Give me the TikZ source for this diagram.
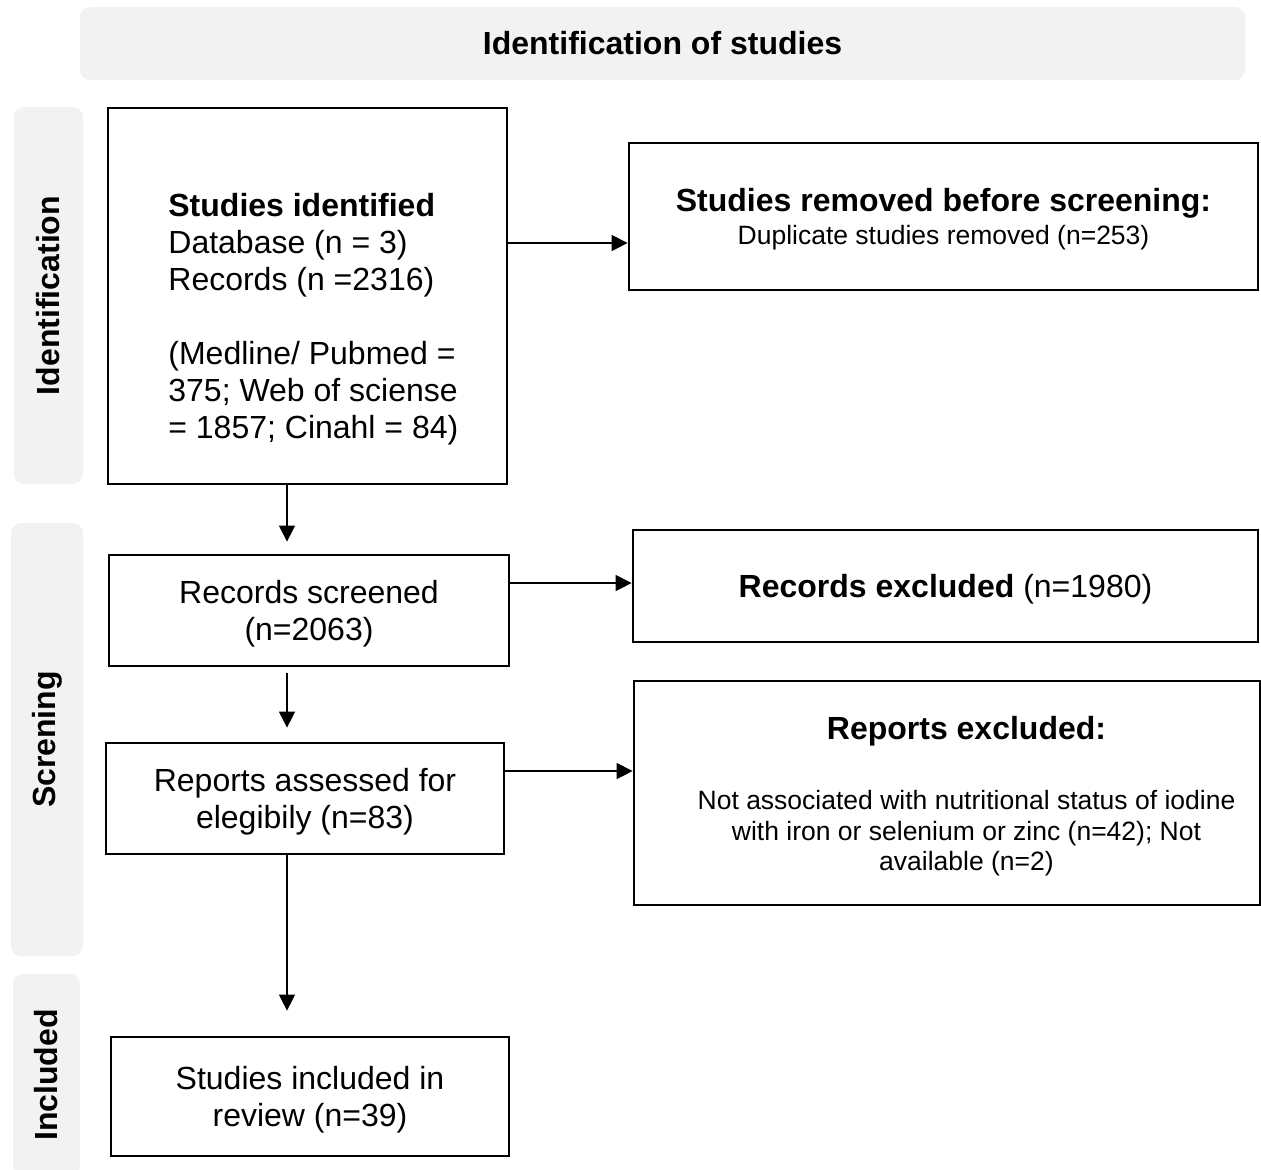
\documentclass[tikz,border=0pt]{standalone}
\usepackage{fontspec}
\setmainfont{Liberation Sans}
\usetikzlibrary{positioning, arrows.meta}
\definecolor{barfill}{HTML}{F2F2F2}

\tikzset{
  stagebar/.style={fill=barfill, rounded corners=5pt, inner sep=0pt, font=\bfseries\fontsize{16}{18.5}\selectfont},
  flowbox/.style={draw, line width=1.4pt, inner sep=0pt, text depth=0pt, align=center, font=\fontsize{16}{18.5}\selectfont},
  flowtext/.style={inner sep=0pt, text depth=0pt, font=\fontsize{16}{18.5}\selectfont},
  smalltext/.style={inner sep=0pt, align=center, font=\fontsize{13.25}{15.25}\selectfont},
  flowarrow/.style={-{Triangle[length=8pt,width=8pt]}, line width=0.7pt},
}

\begin{document}
\begin{tikzpicture}[x=0.5pt, y=-0.5pt]
		\useasboundingbox (0,0) rectangle (1261,1169);
		% stage bars
		\node[stagebar, minimum width=582.5pt, minimum height=36.5pt] (head) at (662.5,43.5) {Identification of studies};
		\node[stagebar, rotate=90, minimum width=188.5pt, minimum height=34.5pt] (idbar) at (48.5,295.5) {Identification};
		\node[stagebar, rotate=90, minimum width=216.5pt, minimum height=36pt] (scrbar) at (47,739.5) {Screning};
		\node[stagebar, rotate=90, minimum width=101pt, minimum height=33.5pt] (incbar) at (46.5,1075) {Included};
		% boxes
		\node[flowbox, minimum width=199.5pt, minimum height=188pt] (ident) at (307.5,296) {};
		\node[flowtext, align=left, anchor=west] (identtxt) at (168,316) {\textbf{Studies identified}\\Database (n = 3)\\Records (n =2316)\\[18.5pt](Medline/ Pubmed =\\375; Web of sciense\\= 1857; Cinahl = 84)};
		\node[flowbox, minimum width=314.5pt, minimum height=73.5pt, font=\fontsize{13.25}{15.25}\selectfont] (removed) at (943.5,216.5) {{\bfseries\fontsize{16}{18.5}\selectfont Studies removed before screening:}\\[1.25pt]Duplicate studies removed (n=253)};
		\node[flowbox, minimum width=200pt, minimum height=55.5pt] (screened) at (309,610.5) {Records screened\\(n=2063)};
		\node[flowbox, minimum width=312.5pt, minimum height=56pt] (recexcl) at (945.5,586) {\textbf{Records excluded} (n=1980)};
		\node[flowbox, minimum width=199pt, minimum height=55.5pt] (assessed) at (305,798.5) {Reports assessed for\\elegibily (n=83)};
		\node[flowbox, minimum width=313pt, minimum height=112pt] (repexcl) at (947,793) {};
		\node[smalltext] (repexcltxt) at (966.5,796) {{\bfseries\fontsize{16}{18.5}\selectfont Reports excluded:}\\[20pt]Not associated with nutritional status of iodine\\with iron or selenium or zinc (n=42); Not\\available (n=2)};
		\node[flowbox, minimum width=199pt, minimum height=59.5pt] (included) at (310,1096.5) {Studies included in\\review (n=39)};
		% arrows
		\coordinate (spine) at (287,0);
		\draw[flowarrow] (ident.east |- 0,243) -- (removed.west |- 0,243);
		\draw[flowarrow] (screened.east |- 0,583) -- (recexcl.west |- 0,583);
		\draw[flowarrow] (assessed.east |- 0,771) -- (repexcl.west |- 0,771);
		\draw[flowarrow, shorten >=6pt] (ident.south -| spine) -- (screened.north -| spine);
		\draw[flowarrow, shorten <=3pt, shorten >=7pt] (screened.south -| spine) -- (assessed.north -| spine);
		\draw[flowarrow, shorten >=12.5pt] (assessed.south -| spine) -- (included.north -| spine);
\end{tikzpicture}
\end{document}
